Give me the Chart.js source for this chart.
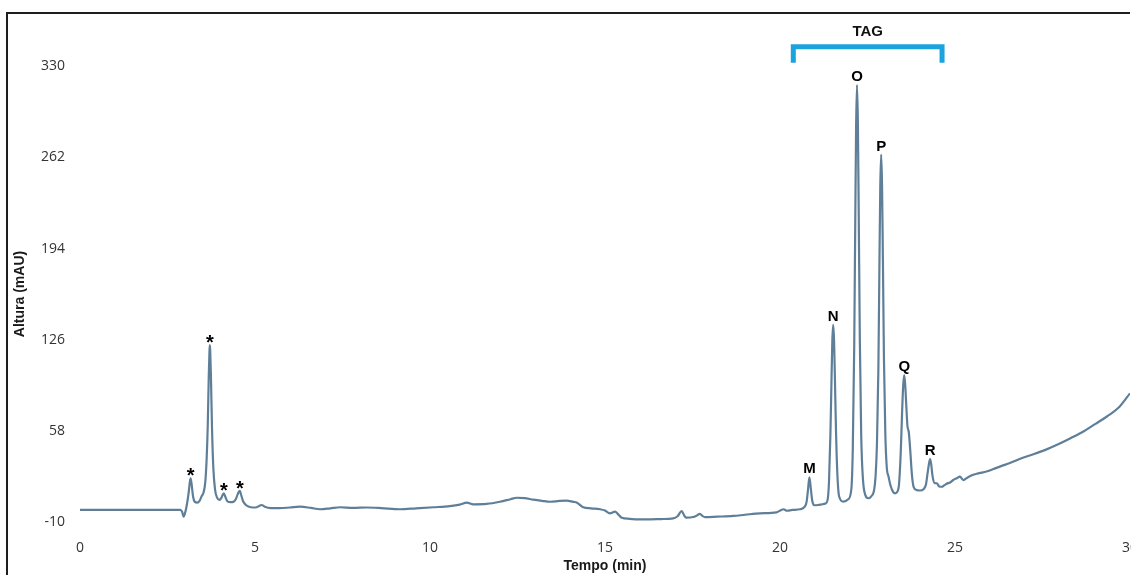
<!DOCTYPE html>
<html>
<head>
<meta charset="utf-8">
<script src="https://cdn.jsdelivr.net/npm/chart.js@4/dist/chart.umd.min.js"></script>
<style>
  html, body { margin: 0; padding: 0; background: #ffffff; overflow: hidden; }
  #wrap { width: 1131px; height: 575px; overflow: hidden; position: relative; }
  canvas { display: block; }
</style>
</head>
<body>
<div id="wrap"><canvas id="chrom" width="1160" height="575"></canvas></div>
<script>
// Retention time (min) and detector response (mAU) of the chromatogram trace
const retentionTime = [
  0, 1, 2, 2.86, 2.92, 2.96, 3.0, 3.05, 3.1, 3.14, 3.16, 3.19, 3.23, 3.28, 3.35, 3.42, 3.48,
  3.53, 3.58, 3.62, 3.65, 3.68, 3.70, 3.71, 3.72, 3.74, 3.77, 3.81, 3.86, 3.92, 3.98,
  4.04, 4.08, 4.11, 4.15, 4.21, 4.3, 4.38, 4.45, 4.51, 4.55, 4.57, 4.6, 4.66, 4.75, 4.88,
  5.02, 5.12, 5.19, 5.28, 5.45, 5.7, 6.0, 6.29, 6.6, 6.86, 7.15, 7.43, 7.8, 8.19, 8.6,
  9.14, 9.6, 10.1, 10.57, 10.85, 11.05, 11.24, 11.62, 12.0, 12.3, 12.48, 12.7, 12.95,
  13.2, 13.43, 13.7, 13.9, 14.1, 14.19, 14.38, 14.6, 14.86, 15.0, 15.14, 15.29, 15.4,
  15.48, 15.7, 16.0, 16.29, 16.6, 16.95, 17.08, 17.19, 17.27, 17.33, 17.52, 17.62, 17.71,
  17.8, 17.86, 18.2, 18.67, 19.0, 19.43, 19.9, 20.05, 20.1, 20.2, 20.35, 20.57,
  20.7, 20.76, 20.8, 20.84, 20.88, 20.92, 20.98, 21.09, 21.2, 21.3,
  21.36, 21.40, 21.44, 21.47, 21.495, 21.52, 21.545, 21.57, 21.60, 21.64, 21.69, 21.81,
  21.95, 22.04, 22.08, 22.12, 22.15, 22.175, 22.2, 22.225, 22.25, 22.28, 22.32, 22.37,
  22.44, 22.52, 22.6, 22.69, 22.73, 22.77, 22.81, 22.84, 22.865, 22.89, 22.915, 22.94,
  22.97, 23.01, 23.05, 23.1, 23.16, 23.23, 23.29, 23.35, 23.40, 23.45, 23.49, 23.52,
  23.55, 23.58, 23.61, 23.64, 23.68, 23.72, 23.77, 23.82, 23.9, 24.0, 24.1, 24.17,
  24.22, 24.26, 24.29, 24.32, 24.36, 24.42, 24.48, 24.55, 24.62, 24.7, 24.8, 24.86,
  24.95, 25.05, 25.14, 25.24, 25.35, 25.45, 25.62, 25.8, 25.95, 26.1, 26.3, 26.57,
  26.9, 27.24, 27.6, 27.9, 28.3, 28.67, 29.0, 29.33, 29.7, 30.0
];
const absorbance = [
  -1.0, -1.0, -1.0, -1.0, -2.5, -6.0, -3.5, 2.5, 11, 20, 22.6, 18, 9, 5, 4.4, 6, 9.5,
  12, 20, 38, 62, 100, 118, 122, 118, 100, 62, 30, 14, 8, 6.5,
  8, 10.5, 11.3, 9, 5.5, 4.8, 5, 7, 11, 13, 13.2, 10.5, 5.5, 2.5, 1,
  0.8, 2, 2.7, 1.4, 0.4, 0.3, 0.8, 1.4, 0.5, -0.5, 0.2, 1.0, 0.5, 0.8, 0.4,
  -0.5, 0.2, 1.0, 1.9, 3.0, 4.4, 3.2, 3.5, 5.1, 7.0, 8.1, 7.8, 6.7,
  5.8, 5.1, 5.7, 5.9, 5.0, 4.6, 1.0, 0.2, -0.5, -1.5, -3.5, -2.3, -5.0,
  -6.8, -7.6, -8.0, -8.0, -7.8, -7.3, -5.5, -1.8, -5.5, -6.8, -6.3, -5.2, -4.0,
  -5.8, -6.3, -6.0, -5.5, -4.6, -3.5, -2.8, -0.8, -0.5, -1.6, -1.0, -0.5,
  1.2, 5, 14, 23.3, 15, 6, 2.5, 2.7, 3.2, 3.8,
  6.5, 20, 55, 94, 125, 137, 125, 96, 58, 25, 9, 5.2,
  7, 15, 45, 120, 213, 286, 316, 288, 218, 128, 55, 22,
  10, 7.7, 9, 14, 24, 48, 103, 180, 240, 264, 242, 186,
  112, 55, 31, 24, 17, 12.5, 11.4, 12.5, 18, 42, 73, 92,
  99.6, 91, 76, 62, 57, 44, 25, 16, 13.9, 13.5, 14.5, 18,
  27, 34, 37, 33, 24, 19, 18.9, 16.5, 16.3, 17.5, 19, 19.5,
  21.3, 22.6, 23.8, 21.3, 23, 24.5, 26, 27, 28, 29.5, 31.5, 34,
  37.5, 40.5, 44, 47.4, 52.5, 57.5, 63, 68.5, 76, 86
];

// Axis tick values
const timeTicks = [0, 5, 10, 15, 20, 25, 30];
const heightTicks = [-10, 58, 126, 194, 262, 330];

// Identified peaks: label and apex retention time
const peakLabels = ['*', '*', '*', '*', 'M', 'N', 'O', 'P', 'Q', 'R'];
const peakTimes  = [3.16, 3.71, 4.11, 4.57, 20.84, 21.52, 22.2, 22.89, 23.55, 24.29];

// Triacylglycerol group bracket (time span)
const tagGroup = { label: 'TAG', from: 20.38, to: 24.63 };

const points = retentionTime.map((t, i) => ({ x: t, y: absorbance[i] }));

const BOLD = "bold 14px 'Liberation Sans', Arial, sans-serif";
const LABEL_BOLD = "bold 15px 'Liberation Sans', Arial, sans-serif";
const STAR_BOLD = "bold 20px 'Liberation Sans', Arial, sans-serif";

const annotate = {
  id: 'annotate',
  afterDraw(chart) {
    const { ctx, scales } = chart;
    const xs = scales.x, ys = scales.y;
    ctx.save();

    // outer frame (top and left edges)
    ctx.strokeStyle = '#1e1e1e';
    ctx.lineWidth = 2;
    ctx.beginPath();
    ctx.moveTo(7, 575);
    ctx.lineTo(7, 13);
    ctx.lineTo(1130, 13);
    ctx.stroke();

    // peak labels above each apex
    ctx.fillStyle = '#000000';
    ctx.textAlign = 'center';
    ctx.textBaseline = 'alphabetic';
    peakLabels.forEach((lab, i) => {
      const t0 = peakTimes[i];
      let best = -Infinity;
      retentionTime.forEach((t, j) => {
        if (Math.abs(t - t0) <= 0.03 && absorbance[j] > best) best = absorbance[j];
      });
      const px = xs.getPixelForValue(t0);
      const py = ys.getPixelForValue(best);
      if (lab === '*') {
        ctx.font = STAR_BOLD;
        ctx.fillText(lab, px, py + 4);
      } else {
        ctx.font = LABEL_BOLD;
        ctx.fillText(lab, px, py - 4);
      }
    });

    // TAG bracket
    const bx0 = xs.getPixelForValue(tagGroup.from);
    const bx1 = xs.getPixelForValue(tagGroup.to);
    const byTop = ys.getPixelForValue(344.5);
    const byLeg = ys.getPixelForValue(332.5);
    ctx.strokeStyle = '#1ba3de';
    ctx.lineWidth = 5;
    ctx.lineCap = 'butt';
    ctx.lineJoin = 'miter';
    ctx.beginPath();
    ctx.moveTo(bx0, byLeg);
    ctx.lineTo(bx0, byTop);
    ctx.lineTo(bx1, byTop);
    ctx.lineTo(bx1, byLeg);
    ctx.stroke();
    ctx.fillStyle = '#111111';
    ctx.font = LABEL_BOLD;
    ctx.textBaseline = 'middle';
    ctx.fillText(tagGroup.label, (bx0 + bx1) / 2, ys.getPixelForValue(356));

    // y axis title
    ctx.translate(20.5, 294);
    ctx.rotate(-Math.PI / 2);
    ctx.font = BOLD;
    ctx.fillStyle = '#1a1a1a';
    ctx.textAlign = 'center';
    ctx.textBaseline = 'middle';
    ctx.fillText('Altura (mAU)', 0, 0);
    ctx.restore();
  }
};

new Chart(document.getElementById('chrom'), {
  type: 'line',
  data: {
    datasets: [{
      data: points,
      borderColor: '#5f7f98',
      borderWidth: 2.2,
      pointRadius: 0,
      fill: false,
      cubicInterpolationMode: 'monotone'
    }]
  },
  options: {
    responsive: false,
    animation: false,
    layout: { padding: { top: 26, right: 30, left: 0, bottom: 0 } },
    plugins: { legend: { display: false }, tooltip: { enabled: false } },
    scales: {
      x: {
        type: 'linear',
        min: 0,
        max: 30,
        afterBuildTicks(scale) { scale.ticks = timeTicks.map(v => ({ value: v })); },
        afterFit(scale) { scale.height = 53; },
        grid: { display: false, drawTicks: false },
        border: { display: false },
        ticks: {
          padding: 18,
          color: '#333333',
          font: { family: "'Open Sans', sans-serif", size: 14 },
          maxRotation: 0,
          autoSkip: false
        },
        title: {
          display: true,
          text: 'Tempo (min)',
          color: '#1a1a1a',
          font: { family: "'Liberation Sans', Arial, sans-serif", size: 14, weight: 'bold' },
          padding: { top: 0, bottom: 0 }
        }
      },
      y: {
        type: 'linear',
        min: -10,
        max: 360,
        afterBuildTicks(scale) { scale.ticks = heightTicks.map(v => ({ value: v })); },
        afterFit(scale) { scale.width = 80; },
        grid: { display: false, drawTicks: false },
        border: { display: false },
        ticks: {
          padding: 15,
          color: '#333333',
          font: { family: "'Open Sans', sans-serif", size: 14 },
          autoSkip: false
        }
      }
    }
  },
  plugins: [annotate]
});
</script>
</body>
</html>
